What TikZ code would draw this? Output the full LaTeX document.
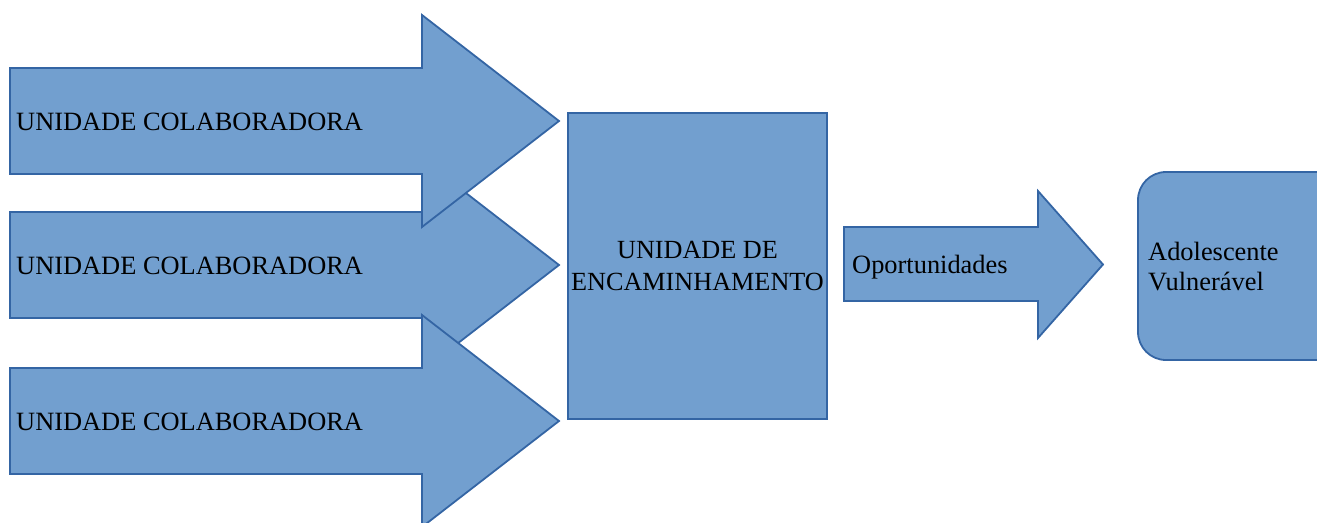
\documentclass[tikz,border=0pt]{standalone}
\usepackage{fontspec}
\setmainfont{Liberation Serif}
\definecolor{blockfill}{HTML}{729FCF}
\definecolor{blockline}{HTML}{3465A4}
\begin{document}
\begin{tikzpicture}[x=1pt, y=-1pt,
    block/.style = {draw=blockline, fill=blockfill, line width=1.8pt},
    label/.style = {font=\fontsize{26.4}{30}\selectfont, inner sep=0pt}]
  \clip (0,0) rectangle (1317,522);
  % collaborating units, the middle one lies behind
  \foreach \y/\n in {144/2, 0/1, 300/3} {
    \draw[block] (10,68+\y) -- (422,68+\y) -- (422,15+\y) -- (559,121+\y)
      -- (422,227+\y) -- (422,174+\y) -- (10,174+\y) -- cycle;
    \node[label, anchor=base west] (colab\n) at (16,130+\y) {UNIDADE COLABORADORA};
  }

  \node[block, minimum width=259pt, minimum height=306pt, inner sep=0pt] (encam) at (697.5,266) {};
  \node[label, align=center, font=\fontsize{26.2}{31.5}\selectfont] (encamtext) at (encam) {UNIDADE DE\\ENCAMINHAMENTO};

  \draw[block] (844,227) -- (1038,227) -- (1038,191) -- (1103,264.5)
    -- (1038,338) -- (1038,301) -- (844,301) -- cycle;
  \node[label, anchor=base west] (oport) at (852,273) {Oportunidades};

  \draw[block, rounded corners=28pt] (1138,172) rectangle (1360,360);
  \node[label, anchor=base west, align=left] (adol) at (1148,290) {Adolescente\\Vulnerável};
\end{tikzpicture}
\end{document}
